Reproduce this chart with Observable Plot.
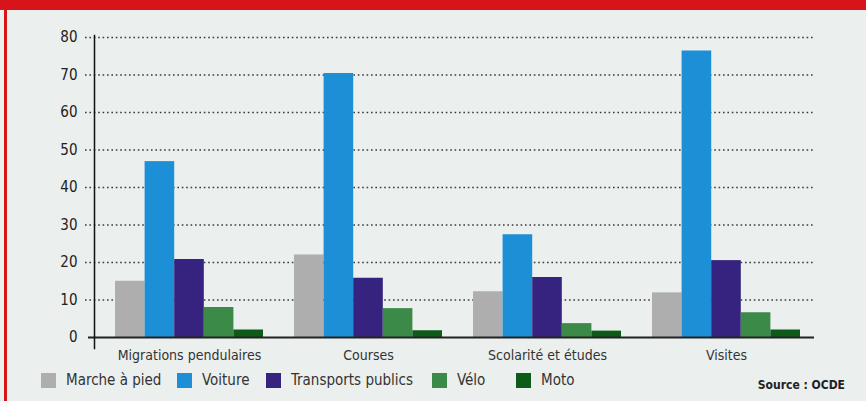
<!DOCTYPE html>
<html>
<head>
<meta charset="utf-8">
<script src="https://cdn.jsdelivr.net/npm/d3@7"></script>
<script src="https://cdn.jsdelivr.net/npm/@observablehq/plot@0.6"></script>
<style>
  html, body { margin: 0; padding: 0; background: #ebefee; }
  #wrap { position: relative; width: 866px; height: 401px; overflow: hidden; background: #ebefee;
          font-family: "DejaVu Sans Condensed", "DejaVu Sans", sans-serif; font-stretch: condensed; }
  #topband { position: absolute; left: 0; top: 0; width: 866px; height: 10px; background: #d7141a; }
  #leftband { position: absolute; left: 4px; top: 10px; width: 3px; height: 391px; background: #d7141a; }
  #chart { position: absolute; left: 0; top: 0; }
  #chart svg text { font-stretch: condensed; }
  .item { position: absolute; top: 372px; height: 16px; display: flex; align-items: center; }
  .sw { width: 15px; height: 15px; margin-right: 10px; }
  .lab { font-size: 15px; color: #333; white-space: nowrap; }
  #source { position: absolute; right: 21px; top: 378px; font-size: 12px; font-weight: bold; color: #222; }
</style>
</head>
<body>
<div id="wrap">
  <div id="topband"></div>
  <div id="leftband"></div>
  <div id="chart"></div>
  <div id="legend"></div>
  <div id="source">Source : OCDE</div>
</div>
<script>
const categories = ["Migrations pendulaires", "Courses", "Scolarité et études", "Visites"];
const series = ["Marche à pied", "Voiture", "Transports publics", "Vélo", "Moto"];
const marche = [15, 22, 12.2, 11.9];
const voiture = [46.9, 70.4, 27.4, 76.4];
const transports = [20.8, 15.8, 16, 20.5];
const velo = [8, 7.7, 3.7, 6.6];
const moto = [2, 1.8, 1.7, 2];
const yTicks = [0, 10, 20, 30, 40, 50, 60, 70, 80];
const colors = ["#aeaeae", "#1c8fd6", "#35237f", "#3c8a47", "#0d5a19"];

const values = [marche, voiture, transports, velo, moto];

// layout (pixels)
const step = 179, groupOffset = 21, barW = 29.6;

const barMarks = series.map((s, i) => {
  const rows = categories.map((c, j) => ({category: c, value: values[i][j], series: s}));
  return Plot.barY(rows, {
    x: "category", y: "value", fill: "series",
    insetLeft: groupOffset + barW * i,
    insetRight: step - groupOffset - barW * (i + 1)
  });
});

const chart = Plot.plot({
  width: 866, height: 370,
  marginLeft: 94, marginRight: 56, marginTop: 37, marginBottom: 33,
  style: {background: "transparent", fontFamily: '"DejaVu Sans Condensed", "DejaVu Sans", sans-serif'},
  x: {domain: categories, padding: 0, label: null},
  y: {domain: [0, 80], label: null},
  color: {domain: series, range: colors},
  marks: [
    Plot.ruleY(yTicks.filter(d => d > 0), {stroke: "#3a3a3a", strokeWidth: 1.6, strokeDasharray: "1.6,2.8", insetLeft: -9, insetRight: -5}),
    ...barMarks,
    Plot.ruleY([0], {stroke: "#222", strokeWidth: 2, insetLeft: -6, insetRight: -4}),
    Plot.frame({anchor: "left", stroke: "#111", strokeWidth: 1.5, insetTop: -2, insetBottom: -11}),
    Plot.axisY({ticks: yTicks, tickSize: 0, tickPadding: 17, fontSize: 15, color: "#222", label: null}),
    Plot.axisX({tickSize: 0, tickPadding: 13, dx: groupOffset + barW * 2.5 - step / 2, fontSize: 14, color: "#333", label: null})
  ]
});
document.getElementById("chart").appendChild(chart);

// legend
const legendLeft = [41, 177, 266, 432, 516];
const legend = document.getElementById("legend");
series.forEach((s, i) => {
  const item = document.createElement("div");
  item.className = "item";
  item.style.left = legendLeft[i] + "px";
  const sw = document.createElement("div");
  sw.className = "sw";
  sw.style.background = colors[i];
  const lab = document.createElement("span");
  lab.className = "lab";
  lab.textContent = s;
  item.appendChild(sw);
  item.appendChild(lab);
  legend.appendChild(item);
});
</script>
</body>
</html>
